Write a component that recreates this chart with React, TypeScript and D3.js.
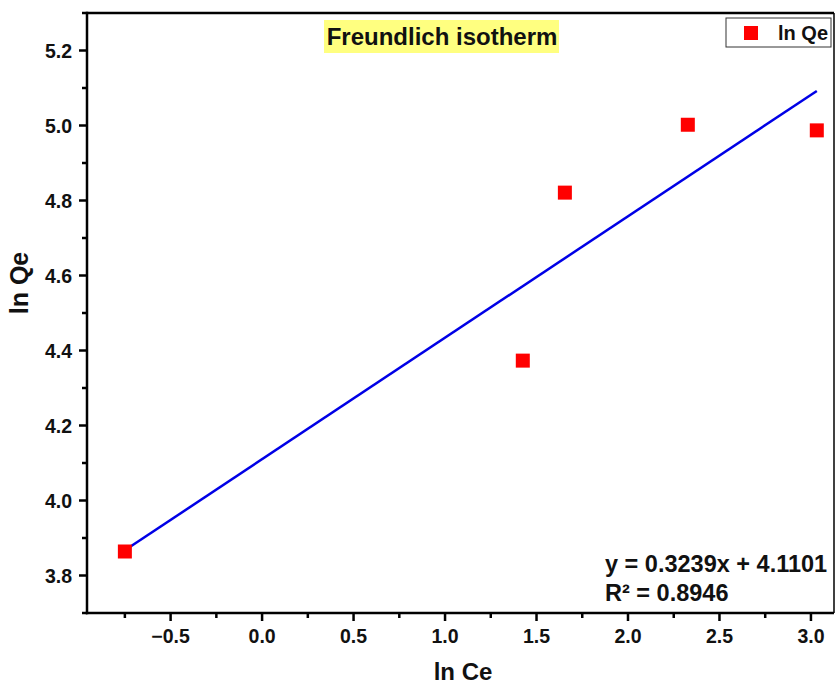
import React from "react";
import * as d3 from "d3";

const lnCe = [-0.75, 1.425, 1.655, 2.327, 3.032];
const lnQe = [3.864, 4.373, 4.821, 5.002, 4.987];
const slope = 0.3239;
const intercept = 4.1101;
const xTicks = [-0.5, 0.0, 0.5, 1.0, 1.5, 2.0, 2.5, 3.0];
const yTicks = [3.8, 4.0, 4.2, 4.4, 4.6, 4.8, 5.0, 5.2];
const xMinor = [-0.75, -0.25, 0.25, 0.75, 1.25, 1.75, 2.25, 2.75];
const yMinor = [3.7, 3.9, 4.1, 4.3, 4.5, 4.7, 4.9, 5.1, 5.3];
const titleText = "Freundlich isotherm";
const seriesName = "ln Qe";
const xLabel = "ln Ce";
const yLabel = "ln Qe";
const eqText = "y = 0.3239x + 4.1101";
const r2Text = "R² = 0.8946";

const W = 838;
const H = 686;
const FONT = "'Liberation Sans', Arial, sans-serif";

export default function App() {
  const left = 87, right = 834, top = 13, bottom = 613;
  const x = d3.scaleLinear().domain([-0.957, 3.126]).range([left, right]);
  const y = d3.scaleLinear().domain([3.7, 5.3]).range([bottom, top]);
  const fitX = [d3.min(lnCe)!, d3.max(lnCe)!];
  const line = d3.line<number>().x((d) => x(d)).y((d) => y(slope * d + intercept));
  const ms = 14;

  return (
    <svg width={W} height={H} style={{ position: "absolute", left: 0, top: 0, background: "#fff" }}>
      <rect x={0} y={0} width={W} height={H} fill="#fff" />
      {/* frame */}
      <line x1={left} x2={right} y1={top} y2={top} stroke="#000" strokeWidth={2.5} />
      <line x1={right} x2={right} y1={top} y2={bottom} stroke="#000" strokeWidth={1.5} />
      <line x1={left} x2={left} y1={top - 1.2} y2={bottom + 1.2} stroke="#000" strokeWidth={2.5} />
      <line x1={left - 1.2} x2={right} y1={bottom} y2={bottom} stroke="#000" strokeWidth={2.5} />

      {/* x ticks */}
      {xTicks.map((t) => (
        <g key={"xt" + t}>
          <line x1={x(t)} x2={x(t)} y1={bottom} y2={bottom + 8} stroke="#000" strokeWidth={2.5} />
          <text x={x(t)} y={643} textAnchor="middle" fontFamily={FONT} fontWeight="bold" fontSize={19.5} fill="#111">
            {t === 0 ? "0.0" : (t < 0 ? "\u2212" : "") + Math.abs(t).toFixed(1)}
          </text>
        </g>
      ))}
      {xMinor.map((t) => (
        <line key={"xm" + t} x1={x(t)} x2={x(t)} y1={bottom} y2={bottom + 5} stroke="#000" strokeWidth={2.5} />
      ))}
      {/* y ticks */}
      {yTicks.map((t) => (
        <g key={"yt" + t}>
          <line x1={left} x2={left - 8} y1={y(t)} y2={y(t)} stroke="#000" strokeWidth={2.5} />
          <text x={72} y={y(t) + 7} textAnchor="end" fontFamily={FONT} fontWeight="bold" fontSize={19.5} fill="#111">
            {t.toFixed(1)}
          </text>
        </g>
      ))}
      {yMinor.map((t) => (
        <line key={"ym" + t} x1={left} x2={left - 5} y1={y(t)} y2={y(t)} stroke="#000" strokeWidth={2.5} />
      ))}

      {/* axis labels */}
      <text x={463} y={680} textAnchor="middle" fontFamily={FONT} fontWeight="bold" fontSize={24} fill="#111">
        {xLabel}
      </text>
      <text
        transform={`translate(28,283) rotate(-90)`}
        textAnchor="middle"
        fontFamily={FONT}
        fontWeight="bold"
        fontSize={25}
        fill="#111"
      >
        {yLabel}
      </text>

      {/* fit line */}
      <path d={line(fitX) || ""} fill="none" stroke="#0000e6" strokeWidth={2.5} />

      {/* points */}
      {lnCe.map((v, i) => (
        <rect key={"p" + i} x={x(v) - ms / 2} y={y(lnQe[i]) - ms / 2} width={ms} height={ms} fill="#ff0000" />
      ))}

      {/* title */}
      <rect x={324} y={20} width={235} height={33} fill="#ffff80" />
      <text x={442} y={45} textAnchor="middle" fontFamily={FONT} fontWeight="bold" fontSize={24} fill="#111">
        {titleText}
      </text>

      {/* legend */}
      <rect x={726} y={18} width={105} height={29} fill="#fff" stroke="#333" strokeWidth={1} />
      <rect x={751 - 7} y={33 - 7} width={14} height={14} fill="#ff0000" />
      <text x={778} y={40} fontFamily={FONT} fontWeight="bold" fontSize={20} fill="#111">
        {seriesName}
      </text>

      {/* equation */}
      <text x={605} y={572} fontFamily={FONT} fontWeight="bold" fontSize={23.5} fill="#111">
        {eqText}
      </text>
      <text x={605} y={601} fontFamily={FONT} fontWeight="bold" fontSize={23.5} fill="#111">
        {r2Text}
      </text>
    </svg>
  );
}
